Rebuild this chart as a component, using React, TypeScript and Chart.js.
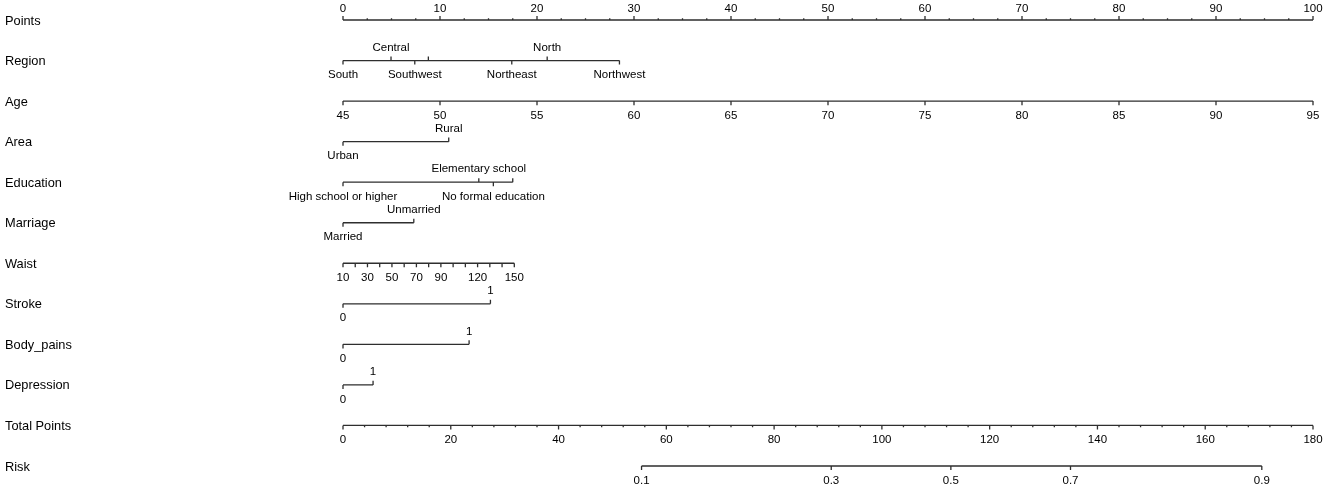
import React, { useEffect, useRef } from 'react';
import { Chart, registerables } from 'chart.js';

Chart.register(...registerables);

// ---------- data ----------
const rowNames = ['Points', 'Region', 'Age', 'Area', 'Education', 'Marriage', 'Waist', 'Stroke', 'Body_pains', 'Depression', 'Total Points', 'Risk'];

const pointsTicks = [0, 10, 20, 30, 40, 50, 60, 70, 80, 90, 100];
const pointsMinor = [2.5, 5, 7.5, 12.5, 15, 17.5, 22.5, 25, 27.5, 32.5, 35, 37.5, 42.5, 45, 47.5, 52.5, 55, 57.5, 62.5, 65, 67.5, 72.5, 75, 77.5, 82.5, 85, 87.5, 92.5, 95, 97.5];

const regionLabels = ['South', 'Central', 'Southwest', '', 'Northeast', 'North', 'Northwest'];
const regionPoints = [0, 4.95, 7.4, 8.8, 17.4, 21.05, 28.5];

const ageTicks = [45, 50, 55, 60, 65, 70, 75, 80, 85, 90, 95];
const ageMin = 45;
const ageMax = 95;

const areaLabels = ['Urban', 'Rural'];
const areaPoints = [0, 10.9];

const educationLabels = ['High school or higher', 'Elementary school', 'No formal education', ''];
const educationPoints = [0, 14.0, 15.5, 17.5];

const marriageLabels = ['Married', 'Unmarried'];
const marriagePoints = [0, 7.3];

const waistTicks = [10, 20, 30, 40, 50, 60, 70, 80, 90, 100, 110, 120, 130, 140, 150];
const waistLabels = ['10', '', '30', '', '50', '', '70', '', '90', '', '', '120', '', '', '150'];
const waistMin = 10;
const waistMax = 150;
const waistMaxPoints = 17.66;

const strokeLabels = ['0', '1'];
const strokePoints = [0, 15.2];

const bodyPainsLabels = ['0', '1'];
const bodyPainsPoints = [0, 13.0];

const depressionLabels = ['0', '1'];
const depressionPoints = [0, 3.1];

const totalTicks = [0, 20, 40, 60, 80, 100, 120, 140, 160, 180];
const totalMinor = [4, 8, 12, 16, 24, 28, 32, 36, 44, 48, 52, 56, 64, 68, 72, 76, 84, 88, 92, 96, 104, 108, 112, 116, 124, 128, 132, 136, 144, 148, 152, 156, 164, 168, 172, 176];
const totalMax = 180;

const riskLabels = ['0.1', '0.3', '0.5', '0.7', '0.9'];
const riskTotalPoints = [55.4, 90.6, 112.8, 135.0, 170.5];

// ---------- styling ----------
const LINE_COLOR = '#2e2e2e';
const NAME_FONT = '12.8px "Liberation Sans", Arial, sans-serif';
const TICK_FONT = '11.5px "Liberation Sans", Arial, sans-serif';
const MAJOR = 0.1; // tick length in row units
const MINOR = 0.045;

type Tick = { p: number; label: string; up: boolean; len: number };
type Row = { ticks: Tick[]; from: number; to: number; labelUp: 'tick' | 'above' | 'below' };

const agePts = (a: number) => ((a - ageMin) / (ageMax - ageMin)) * 100;
const waistPts = (w: number) => ((w - waistMin) / (waistMax - waistMin)) * waistMaxPoints;
const totalPts = (t: number) => (t / totalMax) * 100;

function categorical(labels: string[], pts: number[]): Row {
  return {
    ticks: labels.map((l, i) => ({ p: pts[i], label: l, up: i % 2 === 1, len: MAJOR })),
    from: Math.min(...pts),
    to: Math.max(...pts),
    labelUp: 'tick',
  };
}

const rows: Row[] = [
  {
    ticks: [
      ...pointsTicks.map((v) => ({ p: v, label: String(v), up: true, len: MAJOR })),
      ...pointsMinor.map((v) => ({ p: v, label: '', up: true, len: MINOR })),
    ],
    from: 0, to: 100, labelUp: 'above',
  },
  categorical(regionLabels, regionPoints),
  {
    ticks: ageTicks.map((a) => ({ p: agePts(a), label: String(a), up: false, len: MAJOR })),
    from: agePts(ageMin), to: agePts(ageMax), labelUp: 'below',
  },
  categorical(areaLabels, areaPoints),
  categorical(educationLabels, educationPoints),
  categorical(marriageLabels, marriagePoints),
  {
    ticks: waistTicks.map((w, i) => ({ p: waistPts(w), label: waistLabels[i], up: false, len: MAJOR })),
    from: waistPts(waistMin), to: waistPts(waistMax), labelUp: 'below',
  },
  categorical(strokeLabels, strokePoints),
  categorical(bodyPainsLabels, bodyPainsPoints),
  categorical(depressionLabels, depressionPoints),
  {
    ticks: [
      ...totalTicks.map((t) => ({ p: totalPts(t), label: String(t), up: false, len: MAJOR })),
      ...totalMinor.map((t) => ({ p: totalPts(t), label: '', up: false, len: MINOR })),
    ],
    from: 0, to: 100, labelUp: 'below',
  },
  {
    ticks: riskTotalPoints.map((t, i) => ({ p: totalPts(t), label: riskLabels[i], up: false, len: MAJOR })),
    from: totalPts(riskTotalPoints[0]), to: totalPts(riskTotalPoints[riskTotalPoints.length - 1]), labelUp: 'below',
  },
];

function rowData(row: Row, r: number) {
  const d: { x: number; y: number | null }[] = [];
  d.push({ x: row.from, y: r }, { x: row.to, y: r }, { x: row.to, y: null });
  row.ticks.forEach((t) => {
    d.push({ x: t.p, y: r }, { x: t.p, y: t.up ? r - t.len : r + t.len }, { x: t.p, y: null });
  });
  return d;
}

const textPlugin = {
  id: 'nomoText',
  afterDatasetsDraw(chart: any) {
    const { ctx, scales } = chart;
    const xs = scales.x;
    const ys = scales.y;
    ctx.save();
    ctx.fillStyle = '#000';
    ctx.textBaseline = 'middle';
    rowNames.forEach((name, r) => {
      const y = ys.getPixelForValue(r);
      ctx.font = NAME_FONT;
      ctx.textAlign = 'left';
      ctx.fillText(name, 5, y + 1);
      const row = rows[r];
      ctx.font = TICK_FONT;
      ctx.textAlign = 'center';
      row.ticks.forEach((t) => {
        if (!t.label) return;
        const x = xs.getPixelForValue(t.p);
        let above: boolean;
        if (row.labelUp === 'tick') above = t.up;
        else above = row.labelUp === 'above';
        const off = above ? (r === 0 ? -11 : -13) : 14.5;
        ctx.fillText(t.label, x, y + off);
      });
    });
    ctx.restore();
  },
};

export default function App() {
  const ref = useRef<HTMLCanvasElement | null>(null);
  useEffect(() => {
    document.body.style.margin = '0';
    const c = ref.current!;
    const chart = new Chart(c, {
      type: 'line',
      data: {
        datasets: rows.map((row, r) => ({
          label: rowNames[r],
          data: rowData(row, r),
          borderColor: LINE_COLOR,
          borderWidth: 1.3,
          pointRadius: 0,
          spanGaps: false,
          tension: 0,
          clip: false as any,
          fill: false,
        })),
      },
      options: {
        animation: false,
        responsive: false,
        layout: { padding: { left: 343, right: 12, top: 20, bottom: 22 } },
        scales: {
          x: { type: 'linear', min: 0, max: 100, display: false },
          y: { type: 'linear', min: 0, max: 11, reverse: true, display: false },
        },
        plugins: { legend: { display: false }, tooltip: { enabled: false } },
        events: [],
      },
      plugins: [textPlugin],
    });
    return () => chart.destroy();
  }, []);
  return (
    <canvas
      ref={ref}
      width={1325}
      height={488}
      style={{ position: 'absolute', left: 0, top: 0, width: 1325, height: 488, display: 'block' }}
    />
  );
}
